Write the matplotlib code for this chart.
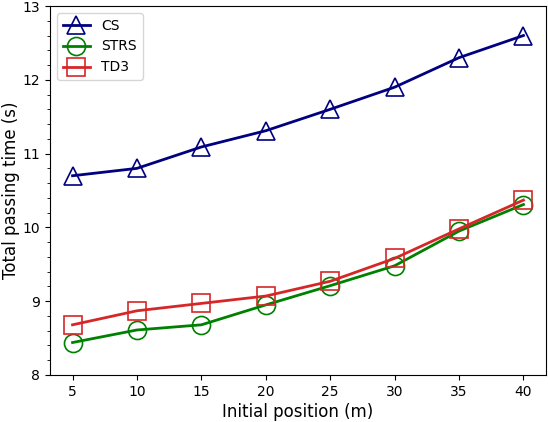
import numpy as np
import matplotlib.pyplot as plt
from matplotlib.ticker import AutoMinorLocator

# Daten
positions = [5, 10, 15, 20, 25, 30, 35, 40]
cs = [10.70, 10.80, 11.09, 11.31, 11.60, 11.90, 12.30, 12.60]
strs = [8.44, 8.61, 8.68, 8.95, 9.21, 9.48, 9.95, 10.31]
td3 = [8.68, 8.87, 8.97, 9.07, 9.27, 9.58, 9.98, 10.37]

fig, ax = plt.subplots(figsize=(5.48, 4.22), dpi=100)
fig.subplots_adjust(left=50/548, right=546/548, top=1-6/422, bottom=1-375/422)

ax.plot(positions, cs, color='navy', marker='^', markersize=13, markerfacecolor='none',
        markeredgewidth=1.2, linewidth=2, label='CS')
ax.plot(positions, strs, color='green', marker='o', markersize=13, markerfacecolor='none',
        markeredgewidth=1.2, linewidth=2, label='STRS')
ax.plot(positions, td3, color='#d62728', marker='s', markersize=13, markerfacecolor='none',
        markeredgewidth=1.2, linewidth=2, label='TD3')

ax.set_ylim(8, 13)
ax.set_xticks(positions)
ax.yaxis.set_minor_locator(AutoMinorLocator(5))
ax.set_xlabel('Initial position (m)', fontsize=12, labelpad=3)
ax.set_ylabel('Total passing time (s)', fontsize=12, labelpad=2)
ax.legend(loc='upper left')

plt.savefig('out.png')
